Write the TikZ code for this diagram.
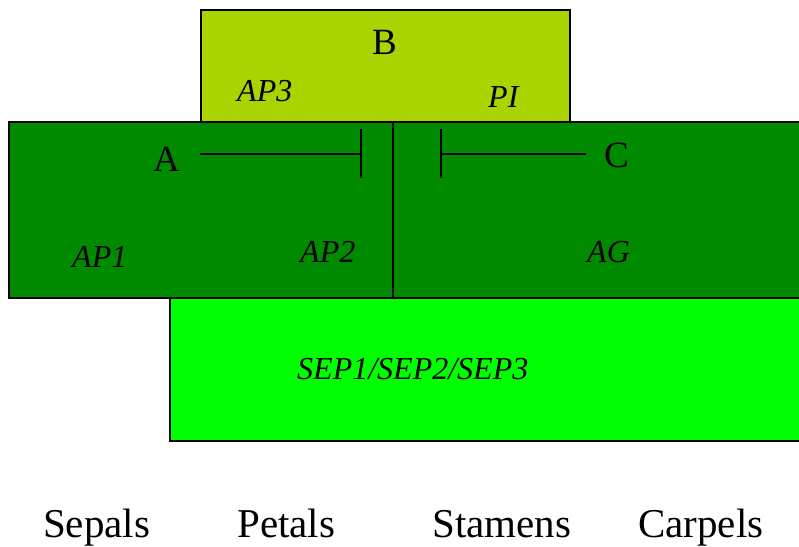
\documentclass[tikz,border=0pt]{standalone}
\usepackage{fontspec}
\setmainfont{Liberation Serif}
\usetikzlibrary{arrows.meta}
\definecolor{bcol}{RGB}{170,212,0}
\definecolor{acol}{RGB}{0,138,0}
\definecolor{scol}{RGB}{0,255,0}
\tikzset{
  box/.style={draw=black, line width=2pt},
  big/.style={inner sep=0pt, anchor=base west, font=\fontsize{37}{44}\selectfont},
  lab/.style={inner sep=0pt, anchor=base west, font=\fontsize{41}{48}\selectfont},
  gene/.style={inner sep=0pt, anchor=base west, font=\fontsize{32}{38}\selectfont\itshape},
  inh/.style={line width=2pt, -{Bar[width=49pt,line width=2pt]}}
}
\begin{document}
\begin{tikzpicture}[x=1pt,y=-1pt]
\clip (0,0) rectangle (799,546);
\fill[white] (0,0) rectangle (799,546);
% B
\draw[box, fill=bcol] (201,10) rectangle (570,122);
% SEP
\draw[box, fill=scol] (170,298) rectangle (815,441);
% A and C
\draw[box, fill=acol] (9,122) rectangle (393,298);
\draw[box, fill=acol] (393,122) rectangle (815,298);
% labels
\node[big] (B) at (372,54) {B};
\node[big] (A) at (153,171) {A};
\node[big] (C) at (604,167) {C};
\node[gene] (ap3) at (237,101) {AP3};
\node[gene] (p1) at (488,107) {PI};
\node[gene] (ap1) at (72,267) {AP1};
\node[gene] (ap2) at (300,262) {AP2};
\node[gene] (ag) at (587,262) {AG};
\node[gene] (sep) at (297,379) {SEP1/SEP2/SEP3};
% inhibition
\coordinate (a0) at (200,153.5);
\coordinate (a1) at (362,153.5);
\coordinate (c0) at (586,153.5);
\coordinate (c1) at (440,153.5);
\draw[inh] (a0) -- (a1);
\draw[inh] (c0) -- (c1);
% whorls
\node[lab] (sepals) at (43,537) {Sepals};
\node[lab] (petals) at (237,537) {Petals};
\node[lab] (stamens) at (432,537) {Stamens};
\node[lab] (carpels) at (638,537) {Carpels};
\end{tikzpicture}
\end{document}
